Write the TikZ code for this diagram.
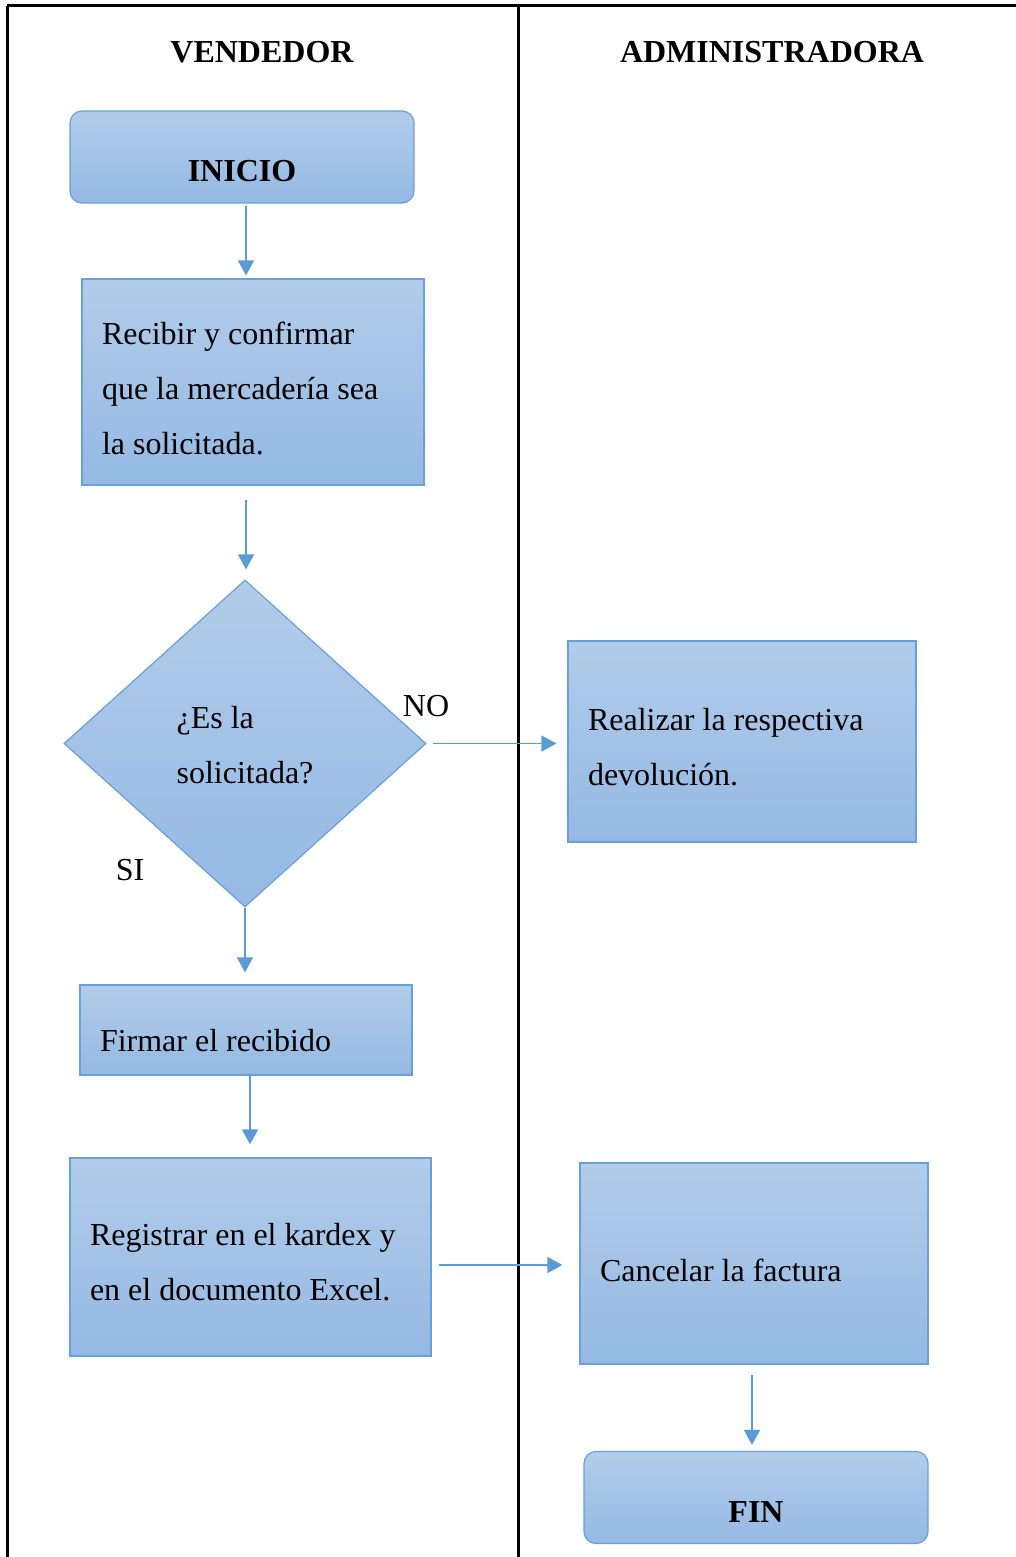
\documentclass[tikz,border=0pt]{standalone}
\usepackage{fontspec}
\setmainfont{Liberation Serif}
\usepackage{xcolor}
\usepackage{tikz}
\usetikzlibrary{shapes, arrows.meta}
\definecolor{boxtop}{RGB}{178,204,234}
\definecolor{boxbot}{RGB}{148,185,227}
\definecolor{boxline}{RGB}{104,160,218}
\definecolor{flowblue}{RGB}{91,155,213}
\newcommand{\topstrut}[1]{\rule{0pt}{#1}}
\tikzstyle{startstop} = [rectangle, rounded corners=6pt, minimum width=172pt, minimum height=46pt, draw=boxline, line width=0.6pt, top color=boxtop, bottom color=boxbot, font=\fontsize{16}{19}\selectfont\bfseries]
\tikzstyle{process} = [rectangle, minimum width=171pt, minimum height=100pt, inner xsep=10pt, align=flush left, draw=boxline, line width=0.6pt, top color=boxtop, bottom color=boxbot, font=\fontsize{16}{27.5}\selectfont]
\tikzstyle{decision} = [diamond, minimum width=181pt, minimum height=163.5pt, inner sep=0pt, align=flush left, draw=boxline, line width=0.6pt, top color=boxtop, bottom color=boxbot, font=\fontsize{16}{27.5}\selectfont]
\tikzstyle{lane} = [line width=1.5pt, draw=black]
\tikzstyle{title} = [font=\fontsize{16}{19}\selectfont\bfseries]
\tikzstyle{answer} = [font=\fontsize{16}{19}\selectfont]
\tikzstyle{arrow} = [line width=0.75pt, draw=flowblue, -{Triangle[width=8pt,length=7.5pt]}]

\begin{document}
\begin{tikzpicture}[x=0.5pt, y=-0.5pt]
\useasboundingbox (0,0) rectangle (1016,1557);

% swimlanes
\draw [lane] (7,6) -- (1016,6);
\draw [lane] (7,6) -- (7,1557);
\draw [lane] (518,6) -- (518,1557);
\node (lane1) [title] at (262,52) {VENDEDOR};
\node (lane2) [title] at (772,52) {ADMINISTRADORA};

\node (ini) [startstop] at (242,157) {\topstrut{25pt}INICIO};
\node (pro1) [process, minimum width=171pt, minimum height=103pt, text width=151pt] at (253,382) {\topstrut{18pt}Recibir y confirmar\\que la mercadería sea\\la solicitada.};
\node (dec1) [decision] at (245,743.5) {\topstrut{13pt}¿Es la\\solicitada?};
\node (pro2) [process, minimum width=174pt, minimum height=100.5pt, text width=154pt] at (742,741.5) {\topstrut{17pt}Realizar la respectiva\\devolución.};
\node (pro3) [process, minimum width=166pt, minimum height=45pt, text width=146pt] at (246,1030) {\topstrut{22pt}Firmar el recibido};
\node (pro4) [process, minimum width=180.5pt, minimum height=99pt, text width=160.5pt] at (250.5,1257) {\topstrut{16.5pt}Registrar en el kardex y\\en el documento Excel.};
\node (pro5) [process, minimum width=174pt, minimum height=100.5pt, text width=154pt] at (754,1263.5) {\topstrut{18pt}Cancelar la factura};
\node (fin) [startstop] at (756,1497.5) {\topstrut{25pt}FIN};

\node (no) [answer] at (426,706) {NO};
\node (si) [answer] at (130,870) {SI};

\draw [arrow, shorten <=1pt, shorten >=1.5pt] ([xshift=2pt]ini.south) -- ([xshift=2pt]ini.south |- pro1.north);
\draw [arrow, shorten <=7pt, shorten >=5pt] ([xshift=-3.5pt]pro1.south) -- ([xshift=-3.5pt]pro1.south |- dec1.north);
\draw [arrow, shorten <=3pt, shorten >=5.5pt] (dec1.east) -- (dec1.east -| pro2.west);
\draw [arrow, shorten >=6pt] (dec1.south) -- (dec1.south |- pro3.north);
\draw [arrow, shorten >=6.5pt] ([xshift=2pt]pro3.south) -- ([xshift=2pt]pro3.south |- pro4.north);
\draw [arrow, shorten <=3.5pt, shorten >=8.5pt] ([yshift=-4pt]pro4.east) -- ([yshift=-4pt]pro4.east -| pro5.west);
\draw [arrow, shorten <=5pt, shorten >=3pt] ([xshift=-1pt]pro5.south) -- ([xshift=-1pt]pro5.south |- fin.north);

\end{tikzpicture}
\end{document}
